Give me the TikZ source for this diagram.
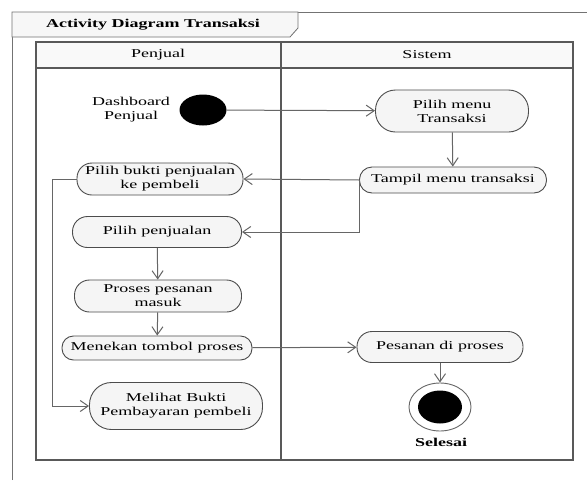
\documentclass[tikz,border=0pt]{standalone}
\usepackage{fontspec}
\setmainfont[FakeStretch=1.5]{Liberation Serif}
\usetikzlibrary{arrows.meta,shapes.geometric}
\begin{document}
\begin{tikzpicture}[x=1pt,y=-1pt,
  font=\fontsize{12}{14}\selectfont,
  aksi/.style={draw=black!70,line width=0.9pt,fill=gray!8,rounded corners=15pt,align=center,inner sep=0pt},
  alur/.style={draw=black!60,line width=1pt,-{Straight Barb[length=8pt,width=11pt]}},
  garis/.style={draw=black!65,line width=1.2pt}]
\useasboundingbox (0,0) rectangle (587,480);
\fill[white] (0,0) rectangle (587,480);
% bingkai luar
\draw[black!55,line width=0.8pt] (12,480) -- (12,12) -- (587,12);
\draw[black!55,line width=0.8pt,fill=gray!6] (12,12) -- (298,12) -- (298,28) -- (290,37) -- (12,37) -- cycle;
\node[font=\fontsize{12}{14}\selectfont\bfseries] (judul) at (153,25) {Activity Diagram Transaksi};
% swimlane
\fill[gray!5] (36,42) rectangle (573,68);
\draw[garis] (36,42) rectangle (573,460);
\draw[garis] (36,68) -- (573,68);
\draw[garis] (281,42) -- (281,460);
\node (penjual) at (158,55) {Penjual};
\node (sistem) at (427,55) {Sistem};
% aktivitas
\node[ellipse,fill=black,minimum width=47,minimum height=31,inner sep=0pt] (mulai) at (203,110) {};
\node[align=center] (dashboard) at (131,110) {Dashboard\\Penjual};
\node[aksi,minimum width=153,minimum height=42,rounded corners=20pt] (menu) at (452,111) {Pilih menu\\Transaksi};
\node[aksi,minimum width=187,minimum height=26,rounded corners=12.5pt] (tampil) at (453,180) {Tampil menu transaksi};
\node[aksi,minimum width=166,minimum height=32] (bukti) at (160,179) {Pilih bukti penjualan\\ke pembeli};
\node[aksi,minimum width=169,minimum height=31] (pilih) at (157,232) {Pilih penjualan};
\node[aksi,minimum width=167,minimum height=32] (proses) at (158,296) {Proses pesanan\\masuk};
\node[aksi,minimum width=190,minimum height=24,rounded corners=11.5pt] (tekan) at (157,348) {Menekan tombol proses};
\node[aksi,minimum width=173,minimum height=47,rounded corners=22pt] (lihat) at (176,406) {Melihat Bukti\\Pembayaran pembeli};
\node[aksi,minimum width=166,minimum height=31] (pesanan) at (440,347) {Pesanan di proses};
\node[ellipse,draw=black!60,line width=0.9pt,fill=white,minimum width=62,minimum height=48,inner sep=0pt] (selesai) at (440,407) {};
\node[ellipse,fill=black,minimum width=44,minimum height=33,inner sep=0pt] (titik) at (selesai) {};
\node[font=\fontsize{12}{14}\selectfont\bfseries] (label) at (441,442) {Selesai};
% alur
\draw[alur] (mulai) -- (menu);
\draw[alur] (menu) -- (tampil);
\draw[alur] (tampil.west) -- (bukti.east);
\draw[alur] (tampil.west) |- (pilih.east);
\draw[alur] (pilih) -- (proses);
\draw[alur] (proses) -- (tekan);
\draw[alur] (tekan) -- (pesanan);
\draw[alur] (pesanan) -- (selesai);
\draw[alur] (bukti.west) -- ++(-24,0) |- (lihat.west);
\end{tikzpicture}
\end{document}
